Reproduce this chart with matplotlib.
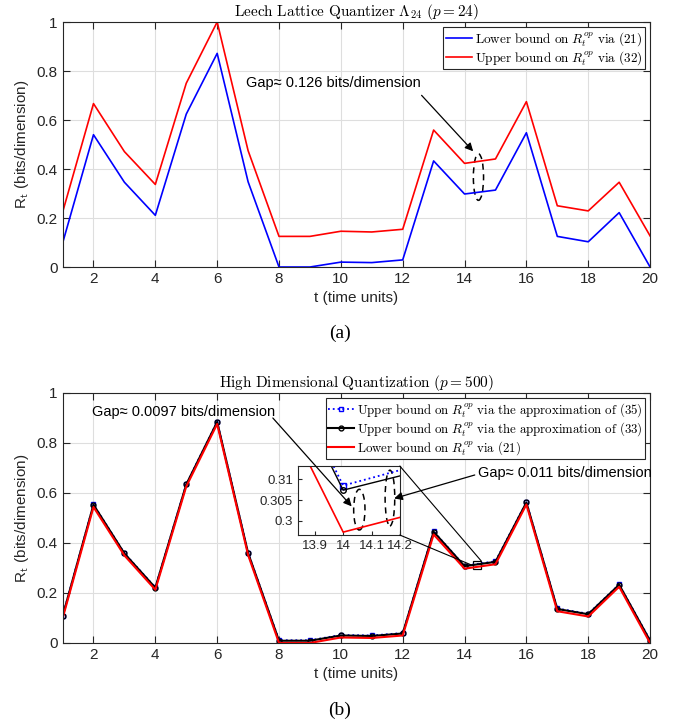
import numpy as np
import matplotlib as mp
mp.use('Agg')
import matplotlib.pyplot as plt
from matplotlib.patches import Ellipse, Rectangle, ConnectionPatch

mp.rcParams['font.family'] = ['Liberation Sans', 'DejaVu Sans']
mp.rcParams['mathtext.fontset'] = 'cm'

# time axis
t = np.arange(1, 21)

# (a) Leech lattice, p = 24
leech_lower = [0.097, 0.540, 0.346, 0.211, 0.624, 0.872, 0.348, 0.0, 0.0, 0.020,
               0.018, 0.029, 0.433, 0.298, 0.314, 0.548, 0.125, 0.103, 0.222, 0.0]
leech_upper = [0.223, 0.667, 0.471, 0.337, 0.750, 1.0, 0.475, 0.125, 0.125, 0.146,
               0.143, 0.154, 0.559, 0.423, 0.441, 0.675, 0.250, 0.229, 0.346, 0.127]

# (b) high dimensional, p = 500
hd_up35 = [0.107, 0.554, 0.359, 0.222, 0.635, 0.885, 0.361, 0.011, 0.011, 0.032,
           0.030, 0.040, 0.446, 0.3085, 0.327, 0.563, 0.138, 0.117, 0.234, 0.011]
hd_up33 = [0.106, 0.553, 0.358, 0.221, 0.634, 0.884, 0.360, 0.009, 0.009, 0.030,
           0.028, 0.038, 0.445, 0.3074, 0.3245, 0.562, 0.136, 0.115, 0.233, 0.009]
hd_low = [0.098, 0.544, 0.350, 0.213, 0.626, 0.876, 0.352, 0.0, 0.0, 0.022,
          0.020, 0.030, 0.434, 0.2973, 0.315, 0.554, 0.127, 0.106, 0.225, 0.0]

xt = np.arange(2, 21, 2)
yt = [0, 0.2, 0.4, 0.6, 0.8, 1]
ytl = ['0', '0.2', '0.4', '0.6', '0.8', '1']

dark = '#262626'


def style(ax):
    ax.set_xlim(1, 20)
    ax.set_ylim(0, 1)
    ax.set_xticks(xt)
    ax.set_yticks(yt)
    ax.set_yticklabels(ytl)
    ax.grid(True, color='#dedede', lw=0.8)
    ax.set_axisbelow(True)
    ax.tick_params(direction='in', top=True, right=True, labelsize=11,
                   colors=dark, length=5, width=0.8)
    for s in ax.spines.values():
        s.set_color(dark)
        s.set_linewidth(0.8)
    ax.set_xlabel('t (time units)', fontsize=11, color=dark)
    ax.set_ylabel(r'R$_\mathsf{t}$ (bits/dimension)', fontsize=11, color=dark)


def box_legend(ax, fs):
    leg = ax.legend(loc='upper right', fontsize=fs, fancybox=False, framealpha=1,
                    edgecolor=dark, borderpad=0.2, labelspacing=0.1,
                    handlelength=2.0, handletextpad=0.2, borderaxespad=0.4)
    leg.get_frame().set_linewidth(0.8)
    return leg


fig = plt.figure(figsize=(6.8, 7.24), dpi=100)

# ---- (a)
ax1 = fig.add_axes([0.092, 0.6312, 0.864, 0.3384])
style(ax1)
ax1.plot(t, leech_lower, color='#0000ff', lw=1.2,
         label=r'$\mathrm{Lower\ bound\ on}\ R_t^{op}\ \mathrm{via\ (21)}$')
ax1.plot(t, leech_upper, color='#ff0000', lw=1.2,
         label=r'$\mathrm{Upper\ bound\ on}\ R_t^{op}\ \mathrm{via\ (32)}$')
ax1.set_title(r'$\mathrm{Leech\ Lattice\ Quantizer}\ \Lambda_{24}\ (p=24)$',
              fontsize=11, pad=4)
box_legend(ax1, 9.5)
ax1.add_patch(Ellipse((14.45, 0.367), 0.33, 0.19, fill=False, ls=(0, (4, 3)),
                      lw=1.1, color='k'))
ax1.annotate('', xy=(14.34, 0.464), xytext=(12.55, 0.709),
             arrowprops=dict(arrowstyle='-|>', color='k', lw=0.9,
                             mutation_scale=12))
ax1.text(9.75, 0.752, 'Gap\u2248 0.126 bits/dimension', fontsize=10.5,
         ha='center', va='center')
fig.text(0.5, 0.540, '(a)', fontsize=14, family='Liberation Serif',
         ha='center', va='center')

# ---- (b)
ax2 = fig.add_axes([0.092, 0.1119, 0.864, 0.3453])
style(ax2)
ax2.plot(t, hd_up35, color='#0000ff', ls=':', lw=1.3, marker='s', ms=3.5,
         mfc='none', mew=1.0,
         label=r'$\mathrm{Upper\ bound\ on}\ R_t^{op}\ \mathrm{via\ the\ approximation\ of\ (35)}$')
ax2.plot(t, hd_up33, color='k', lw=1.5, marker='o', ms=3.5, mfc='none', mew=1.0,
         label=r'$\mathrm{Upper\ bound\ on}\ R_t^{op}\ \mathrm{via\ the\ approximation\ of\ (33)}$')
ax2.plot(t, hd_low, color='#ff0000', lw=1.5,
         label=r'$\mathrm{Lower\ bound\ on}\ R_t^{op}\ \mathrm{via\ (21)}$')
ax2.set_title(r'$\mathrm{High\ Dimensional\ Quantization}\ (p=500)$',
              fontsize=11, pad=4)
box_legend(ax2, 9.3)
rect = Rectangle((14.26, 0.296), 0.28, 0.032, fill=False, ec='k', lw=0.9)
ax2.add_patch(rect)
fig.text(0.5, 0.0193, '(b)', fontsize=14, family='Liberation Serif',
         ha='center', va='center')

# inset
axi = fig.add_axes([0.438, 0.261, 0.150, 0.0953])
axi.plot(t, hd_up35, color='#0000ff', ls=':', lw=1.3, marker='s', ms=4.5,
         mfc='none', mew=1.0)
axi.plot(t, hd_up33, color='k', lw=1.0, marker='o', ms=4, mfc='none', mew=1.0)
axi.plot(t, hd_low, color='#ff0000', lw=1.2)
axi.set_xlim(13.84, 14.2)
axi.set_ylim(0.2966, 0.3132)
axi.set_xticks([13.9, 14, 14.1, 14.2])
axi.set_xticklabels(['13.9', '14', '14.1', '14.2'])
axi.set_yticks([0.3, 0.305, 0.31])
axi.set_yticklabels(['0.3', '0.305', '0.31'])
axi.tick_params(direction='in', labelsize=9.5, colors=dark, length=3, width=0.8)
for s in axi.spines.values():
    s.set_color(dark)
    s.set_linewidth(0.8)
axi.add_patch(Ellipse((14.057, 0.3027), 0.04, 0.0098, fill=False,
                      ls=(0, (4, 3)), lw=1.1, color='k', clip_on=True))
axi.add_patch(Ellipse((14.165, 0.3055), 0.034, 0.0134, fill=False,
                      ls=(0, (4, 3)), lw=1.1, color='k', clip_on=True))

# connectors from inset to zoom box
for xa, ya, xb, yb in [(14.2, 0.3132, 14.54, 0.328), (14.2, 0.2966, 14.26, 0.31)]:
    con = ConnectionPatch(xyA=(xa, ya), coordsA=axi.transData,
                          xyB=(xb, yb), coordsB=ax2.transData,
                          color='k', lw=0.8)
    fig.add_artist(con)

# gap annotations
ax2.text(4.9, 0.925, 'Gap\u2248 0.0097 bits/dimension', fontsize=10.5,
         ha='center', va='center')
con = ConnectionPatch(xyA=(7.8, 0.90), coordsA=ax2.transData,
                      xyB=(14.03, 0.3035), coordsB=axi.transData,
                      arrowstyle='-|>', color='k', lw=0.9, mutation_scale=12)
fig.add_artist(con)
ax2.text(17.25, 0.68, 'Gap\u2248 0.011 bits/dimension', fontsize=10.5,
         ha='center', va='center')
con = ConnectionPatch(xyA=(14.33, 0.672), coordsA=ax2.transData,
                      xyB=(14.18, 0.3054), coordsB=axi.transData,
                      arrowstyle='-|>', color='k', lw=0.9, mutation_scale=12)
fig.add_artist(con)

fig.savefig('out.png', dpi=100)
